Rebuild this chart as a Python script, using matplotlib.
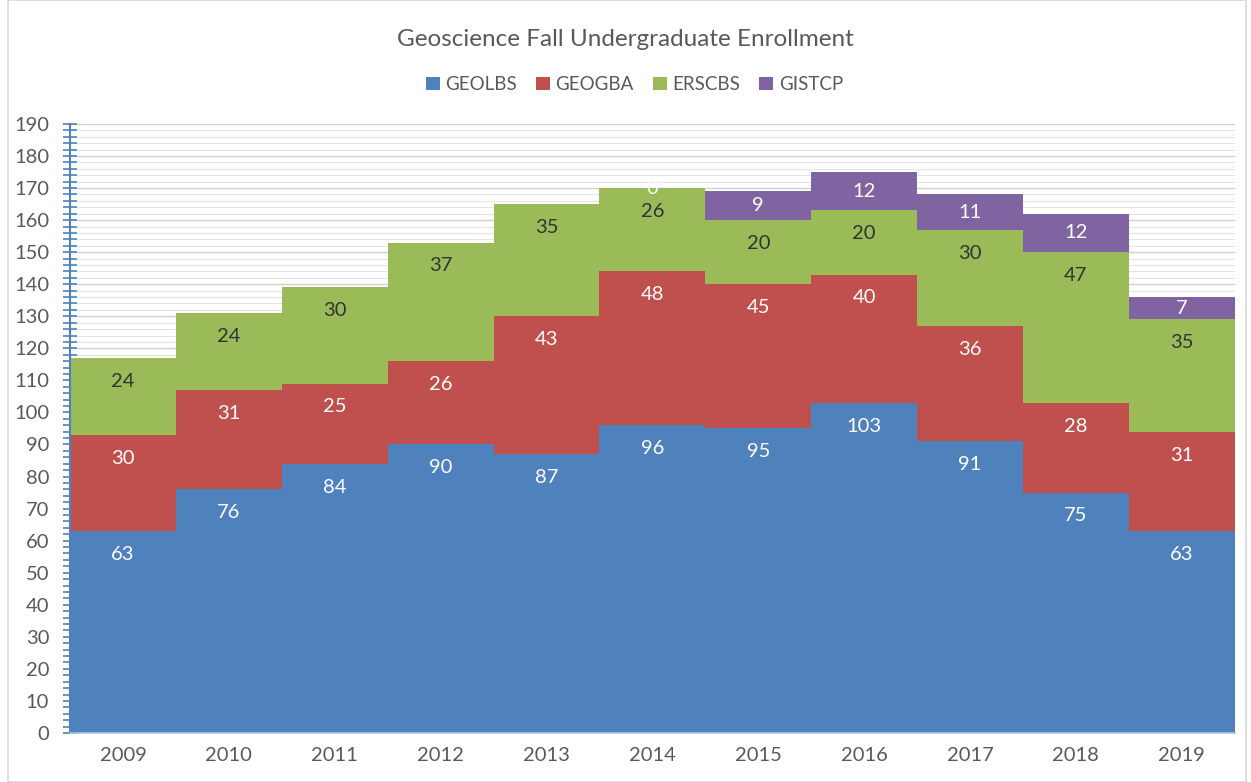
import matplotlib
matplotlib.use("Agg")
import matplotlib.pyplot as plt
import numpy as np
from matplotlib.patches import Rectangle

years = ["2009", "2010", "2011", "2012", "2013", "2014", "2015", "2016", "2017", "2018", "2019"]
geolbs = [63, 76, 84, 90, 87, 96, 95, 103, 91, 75, 63]
geogba = [30, 31, 25, 26, 43, 48, 45, 40, 36, 28, 31]
erscbs = [24, 24, 30, 37, 35, 26, 20, 20, 30, 47, 35]
gistcp = [None, None, None, None, None, 0, 9, 12, 11, 12, 7]

series_names = ["GEOLBS", "GEOGBA", "ERSCBS", "GISTCP"]
colors = ["#4F81BD", "#C0504D", "#9BBB59", "#8064A2"]
label_colors = ["white", "white", "#333333", "white"]
LABEL_DROP = 7.3  # label sits this far (in value units) below the top of its band

plt.rcParams['font.family'] = ['Lato', 'DejaVu Sans']

fig = plt.figure(figsize=(12.51, 7.82), dpi=100)
ax = fig.add_axes([0.056, 0.0627, 0.931, 0.7788])

x = np.arange(len(years))
bottom = np.zeros(len(years))
series = [geolbs, geogba, erscbs, gistcp]
for name, vals, c, lc in zip(series_names, series, colors, label_colors):
    v = np.array([0 if a is None else a for a in vals], dtype=float)
    ax.bar(x, v, width=1.0, bottom=bottom, color=c, label=name, zorder=2, linewidth=0)
    for i, a in enumerate(vals):
        if a is None:
            continue
        top = bottom[i] + a
        ypos = top - min(LABEL_DROP, a / 2)
        ax.text(x[i], ypos, str(a), ha="center", va="center",
                color=lc, fontsize=14.5, zorder=3)
    bottom += v

ax.set_xlim(-0.5, len(years) - 0.5)
ax.set_ylim(0, 190)
ax.set_yticks(np.arange(0, 191, 10))
ax.set_yticks(np.arange(0, 191, 2), minor=True)
ax.set_xticks(x)
ax.set_xticklabels(years)
ax.tick_params(axis="y", which="major", length=10, width=1.2, color="#4F81BD", direction="inout",
               labelsize=14.5, labelcolor="#595959", pad=10)
ax.tick_params(axis="y", which="minor", length=10, width=1.2, color="#4F81BD", direction="inout")
ax.tick_params(axis="x", length=0, labelsize=14.5, labelcolor="#595959", pad=10)
ax.grid(axis="y", which="major", color="#D0D0D0", linewidth=1, zorder=0)
ax.grid(axis="y", which="minor", color="#E4E4E4", linewidth=0.8, zorder=0)
ax.set_axisbelow(True)
for s in ["top", "right"]:
    ax.spines[s].set_visible(False)
ax.spines["left"].set_color("#4F81BD")
ax.spines["left"].set_linewidth(1.5)
ax.spines["bottom"].set_color("#A9C4E4")
ax.spines["bottom"].set_linewidth(1.2)

fig.text(0.5, 0.949, "Geoscience Fall Undergraduate Enrollment", ha="center", va="center",
         fontsize=17.5, color="#595959")
leg = fig.legend(loc="center", bbox_to_anchor=(0.507, 0.892), ncol=4, frameon=False,
                 fontsize=13.5, handlelength=0.75, handleheight=0.75, columnspacing=1.0,
                 handletextpad=0.3, labelcolor="#595959")

fig.patches.append(Rectangle((0.006, 0.0), 0.99, 1.0, transform=fig.transFigure,
                             fill=False, edgecolor="#D9D9D9", linewidth=1.2))

fig.savefig("out.png", dpi=100)
